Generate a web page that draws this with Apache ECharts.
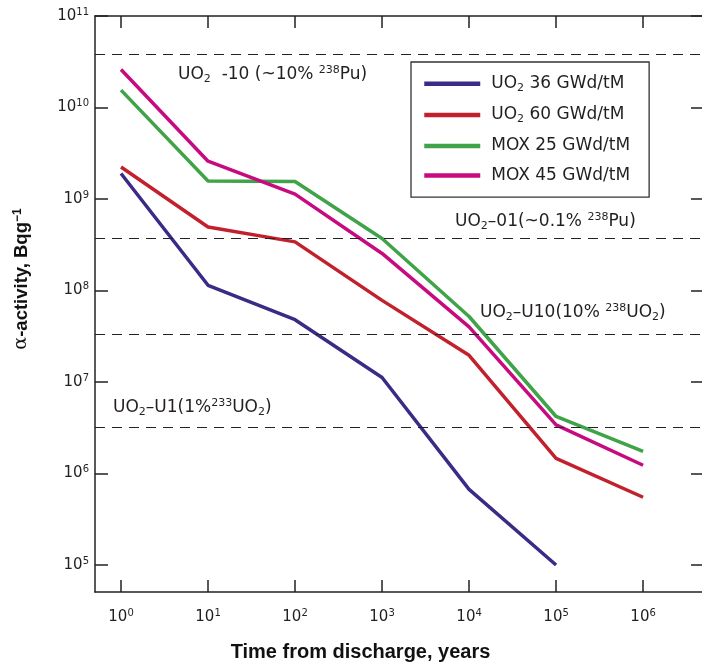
<!DOCTYPE html>
<html><head><meta charset="utf-8">
<script src="https://cdn.jsdelivr.net/npm/echarts@6/dist/echarts.min.js"></script>
<style>html,body{margin:0;padding:0;background:#fff}#c{width:702px;height:666px}</style>
</head><body><div id="c"></div>
<script>
// ---- data ----
const years = [1, 10, 100, 1000, 10000, 100000, 1000000];
const uo2_36 = [1.9e9, 1.14e8, 4.8e7, 1.12e7, 6.7e5, 1.0e5];
const uo2_60 = [2.24e9, 4.95e8, 3.4e8, 7.8e7, 1.96e7, 1.46e6, 5.5e5];
const mox_25 = [1.55e10, 1.57e9, 1.55e9, 3.7e8, 5.2e7, 4.2e6, 1.75e6];
const mox_45 = [2.6e10, 2.59e9, 1.13e9, 2.54e8, 4.0e7, 3.4e6, 1.23e6];
const seriesNames = ['UO2 36 GWd/tM', 'UO2 60 GWd/tM', 'MOX 25 GWd/tM', 'MOX 45 GWd/tM'];
const seriesColors = ['#3a2c86', '#c3202d', '#3fa347', '#c80a80'];
const refLevels = [3.8e10, 3.7e8, 3.3e7, 3.2e6];
const xTickValues = [1, 10, 100, 1000, 10000, 100000, 1000000];
const yTickValues = [1e5, 1e6, 1e7, 1e8, 1e9, 1e10, 1e11];
const xTitle = 'Time from discharge, years';
const yTitle = '{a|\u03b1}-activity, Bqg{s|\u22121}';
const refTexts = [
  '{t|UO}{sub|2}{t|  -10 (~10% }{sup|238}{t|Pu)}',
  '{t|UO}{sub|2}{t|\u201301(~0.1% }{sup|238}{t|Pu)}',
  '{t|UO}{sub|2}{t|\u2013U10(10% }{sup|238}{t|UO}{sub|2}{t|)}',
  '{t|UO}{sub|2}{t|\u2013U1(1%}{sup|233}{t|UO}{sub|2}{t|)}'
];
// ---- end data ----

const FONT = 'DejaVu Sans';
const TXT = '#231f20';
const AX = '#222';
const valuesList = [uo2_36, uo2_60, mox_25, mox_45];

function pairs(vals) { return vals.map((v, i) => [years[i], v]); }
function pow10Label(v) {
  const e = Math.round(Math.log10(v));
  return '{b|10}{s|' + e + '}';
}
const tickRich = {
  b: { fontSize: 15, fontFamily: FONT, color: TXT, lineHeight: 18 },
  s: { fontSize: 10, fontFamily: FONT, color: TXT, verticalAlign: 'top', lineHeight: 12 }
};
const axLine = { lineStyle: { color: AX, width: 1.5 } };
const XMIN = Math.pow(10, -0.299), XMAX = Math.pow(10, 6.70);
const YMIN = Math.pow(10, 4.705), YMAX = 1e11;

const series = valuesList.map((vals, i) => ({
  name: seriesNames[i], type: 'line', data: pairs(vals),
  symbol: 'none', lineStyle: { color: seriesColors[i], width: 3.5 },
  itemStyle: { color: seriesColors[i] }, z: 3
}));
series.push({
  name: 'levels', type: 'line', data: [], symbol: 'none',
  markLine: {
    silent: true, symbol: 'none', animation: false,
    label: { show: false },
    lineStyle: { color: '#222', width: 1.2, type: [10, 7] },
    data: refLevels.map(v => ({ yAxis: v }))
  }
});

const refPos = [[178, 75], [455, 222], [480, 313], [113, 408]];
const refRich = {
  t: { fontSize: 17, fontFamily: FONT, fill: TXT, lineHeight: 20 },
  sub: { fontSize: 11, fontFamily: FONT, fill: TXT, verticalAlign: 'bottom', lineHeight: 12 },
  sup: { fontSize: 11, fontFamily: FONT, fill: TXT, verticalAlign: 'top', lineHeight: 12 }
};

const option = {
  animation: false,
  backgroundColor: '#fff',
  grid: { left: 95, top: 16, width: 609, height: 576, containLabel: false, outerBoundsMode: 'none' },
  legend: {
    data: seriesNames,
    left: 411, top: 62, orient: 'vertical',
    padding: [13.3, 19, 13, 11],
    borderColor: '#333', borderWidth: 1.3,
    itemWidth: 56, itemHeight: 20, itemGap: 12.6,
    lineStyle: { width: 4.5 },
    itemStyle: { opacity: 0, borderWidth: 0 },
    formatter: n => n.startsWith('UO2') ? '{n|UO}{sub|2}{n|' + n.slice(3) + '}' : '{n|' + n + '}',
    textStyle: {
      padding: [0, 0, 0, 6],
      rich: {
        n: { fontSize: 17, fontFamily: FONT, color: TXT, lineHeight: 20 },
        sub: { fontSize: 11, fontFamily: FONT, color: TXT, verticalAlign: 'bottom', lineHeight: 12 }
      }
    }
  },
  xAxis: [{
    type: 'log', logBase: 10, position: 'bottom',
    min: XMIN, max: XMAX,
    axisLine: axLine,
    axisTick: { inside: true, length: 12, customValues: xTickValues, lineStyle: { color: AX, width: 1.5 } },
    axisLabel: { customValues: xTickValues, formatter: pow10Label, margin: 16, rich: tickRich },
    splitLine: { show: false }, minorTick: { show: false },
    name: xTitle, nameLocation: 'middle', nameGap: 50,
    nameTextStyle: { fontFamily: 'Liberation Sans', fontWeight: 'bold', fontSize: 20, color: '#111', padding: [0, 78, 0, 0] }
  }, {
    type: 'log', logBase: 10, position: 'top',
    min: XMIN, max: XMAX,
    axisLine: axLine,
    axisTick: { inside: true, length: 12, customValues: xTickValues, lineStyle: { color: AX, width: 1.5 } },
    axisLabel: { show: false }, splitLine: { show: false }
  }],
  yAxis: [{
    type: 'log', logBase: 10, position: 'left',
    min: YMIN, max: YMAX,
    axisLine: axLine,
    axisTick: { inside: true, length: 13, customValues: yTickValues, lineStyle: { color: AX, width: 1.5 } },
    axisLabel: { customValues: yTickValues, formatter: pow10Label, margin: 6, rich: tickRich },
    splitLine: { show: false },
    name: yTitle, nameLocation: 'middle', nameGap: 64,
    nameTextStyle: {
      fontFamily: 'Liberation Sans', fontWeight: 'bold', fontSize: 18.5, color: '#111', padding: [0, 0, 0, 50],
      rich: {
        a: { fontFamily: 'DejaVu Serif', fontWeight: 'normal', fontSize: 19, color: '#111' },
        s: { fontFamily: 'Liberation Sans', fontWeight: 'bold', fontSize: 12, color: '#111', verticalAlign: 'top' }
      }
    }
  }, {
    type: 'log', logBase: 10, position: 'right',
    min: YMIN, max: YMAX,
    axisLine: { show: false },
    axisTick: { inside: true, length: 13, customValues: yTickValues, lineStyle: { color: AX, width: 1.5 } },
    axisLabel: { show: false }, splitLine: { show: false }
  }],
  graphic: refTexts.map((t, i) => ({
    type: 'text', x: refPos[i][0], y: refPos[i][1], z: 10,
    style: { text: t, rich: refRich, fontSize: 17, fontFamily: FONT, fill: TXT, verticalAlign: 'middle', align: 'left' }
  })),
  series: series
};
const chart = echarts.init(document.getElementById('c'), null, { renderer: 'canvas' });
chart.setOption(option);
</script></body></html>
